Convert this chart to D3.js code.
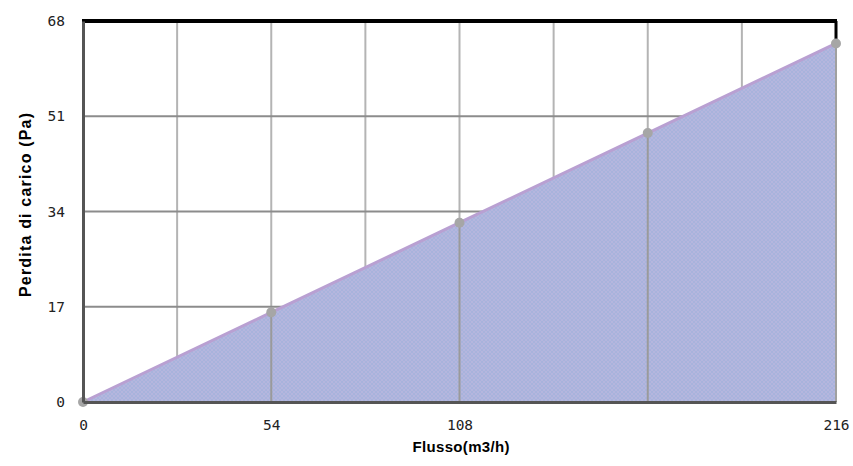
<!DOCTYPE html>
<html>
<head>
<meta charset="utf-8">
<script src="https://cdn.jsdelivr.net/npm/d3@7"></script>
<style>
  body { margin: 0; background: #fff; }
  .tick text { font-family: "DejaVu Sans Mono", monospace; font-size: 14.5px; fill: #222; }
</style>
</head>
<body>
<div id="chart"></div>
<script>
// dati
const flusso = [0, 54, 108, 162, 216];
const perdita = [0, 16, 32, 48, 64];
const xTickLabels = [0, 54, 108, 216];
const yTickLabels = [0, 17, 34, 51, 68];
const xGrid = [27, 54, 81, 108, 135, 162, 189];
const yGrid = [17, 34, 51];

const svgWidth = 853, svgHeight = 466;
const margin = { top: 21, right: 17, bottom: 64, left: 83 };
const width = svgWidth - margin.left - margin.right;
const height = svgHeight - margin.top - margin.bottom;

const root = d3.select('#chart').append('svg')
  .attr('width', svgWidth)
  .attr('height', svgHeight);

// texture dell'area
const pat = root.append('defs').append('pattern')
  .attr('id', 'dots')
  .attr('width', 4).attr('height', 4)
  .attr('patternUnits', 'userSpaceOnUse');
pat.append('rect').attr('width', 4).attr('height', 4).attr('fill', '#a8b3dc');
pat.append('rect').attr('width', 2).attr('height', 2).attr('fill', '#b5b6de');
pat.append('rect').attr('x', 2).attr('y', 2).attr('width', 2).attr('height', 2).attr('fill', '#b5b6de');

const svg = root.append('g')
  .attr('transform', `translate(${margin.left},${margin.top})`);

const x = d3.scaleLinear().domain([0, 216]).range([0, width]);
const y = d3.scaleLinear().domain([0, 68]).range([height, 0]);

const data = flusso.map((f, i) => ({ f: f, p: perdita[i] }));

// griglia
svg.selectAll('.vgrid').data(xGrid).enter().append('line')
  .attr('x1', d => x(d)).attr('x2', d => x(d))
  .attr('y1', 0).attr('y2', height)
  .attr('stroke', '#b4b4b4').attr('stroke-width', 2);

svg.selectAll('.hgrid').data(yGrid).enter().append('line')
  .attr('x1', 0).attr('x2', width)
  .attr('y1', d => y(d)).attr('y2', d => y(d))
  .attr('stroke', '#8c8c8c').attr('stroke-width', 2);

// area
const area = d3.area().x(d => x(d.f)).y0(y(0)).y1(d => y(d.p));
svg.append('path').datum(data)
  .attr('d', area)
  .attr('fill', 'url(#dots)');

// linee verticali sopra l'area
svg.selectAll('.vgrid2').data(flusso.slice(1, 4)).enter().append('line')
  .attr('x1', d => x(d)).attr('x2', d => x(d))
  .attr('y1', d => y(perdita[flusso.indexOf(d)])).attr('y2', height)
  .attr('stroke', '#9a9a9a').attr('stroke-width', 2);

// bordo superiore e destro
svg.append('line')
  .attr('x1', -1).attr('x2', width + 1)
  .attr('y1', 0).attr('y2', 0)
  .attr('stroke', '#000').attr('stroke-width', 4);
svg.append('line')
  .attr('x1', width).attr('x2', width)
  .attr('y1', 0).attr('y2', y(64))
  .attr('stroke', '#000').attr('stroke-width', 3);
svg.append('line')
  .attr('x1', width).attr('x2', width)
  .attr('y1', y(64)).attr('y2', height)
  .attr('stroke', '#a0a0a0').attr('stroke-width', 2);

// linea
svg.append('path').datum(data)
  .attr('d', d3.line().x(d => x(d.f)).y(d => y(d.p)))
  .attr('fill', 'none')
  .attr('stroke', '#b9a0d2')
  .attr('stroke-width', 3);

// punti
svg.selectAll('.pt').data(data).enter().append('circle')
  .attr('cx', d => x(d.f)).attr('cy', d => y(d.p))
  .attr('r', 5)
  .attr('fill', '#a6a6a6');

// assi
const xAxis = svg.append('g')
  .attr('transform', `translate(0,${height})`)
  .call(d3.axisBottom(x).tickValues(xTickLabels).tickSize(0).tickPadding(18));
xAxis.select('.domain').attr('stroke', '#555').attr('stroke-width', 3);

const yAxis = svg.append('g')
  .call(d3.axisLeft(y).tickValues(yTickLabels).tickSize(0).tickPadding(18));
yAxis.select('.domain').attr('stroke', '#555').attr('stroke-width', 3);

// titoli degli assi
svg.append('text')
  .attr('x', 461 - margin.left)
  .attr('y', height + 50)
  .attr('text-anchor', 'middle')
  .attr('textLength', 97)
  .style('font-family', 'Liberation Sans, Arial, sans-serif')
  .style('font-weight', 'bold')
  .style('font-size', '15px')
  .text('Flusso(m3/h)');

svg.append('text')
  .attr('transform', 'rotate(-90)')
  .attr('x', -(205 - margin.top))
  .attr('y', -margin.left + 31)
  .attr('text-anchor', 'middle')
  .attr('textLength', 184)
  .style('font-family', 'Liberation Sans, Arial, sans-serif')
  .style('font-weight', 'bold')
  .style('font-size', '16px')
  .text('Perdita di carico (Pa)');
</script>
</body>
</html>
